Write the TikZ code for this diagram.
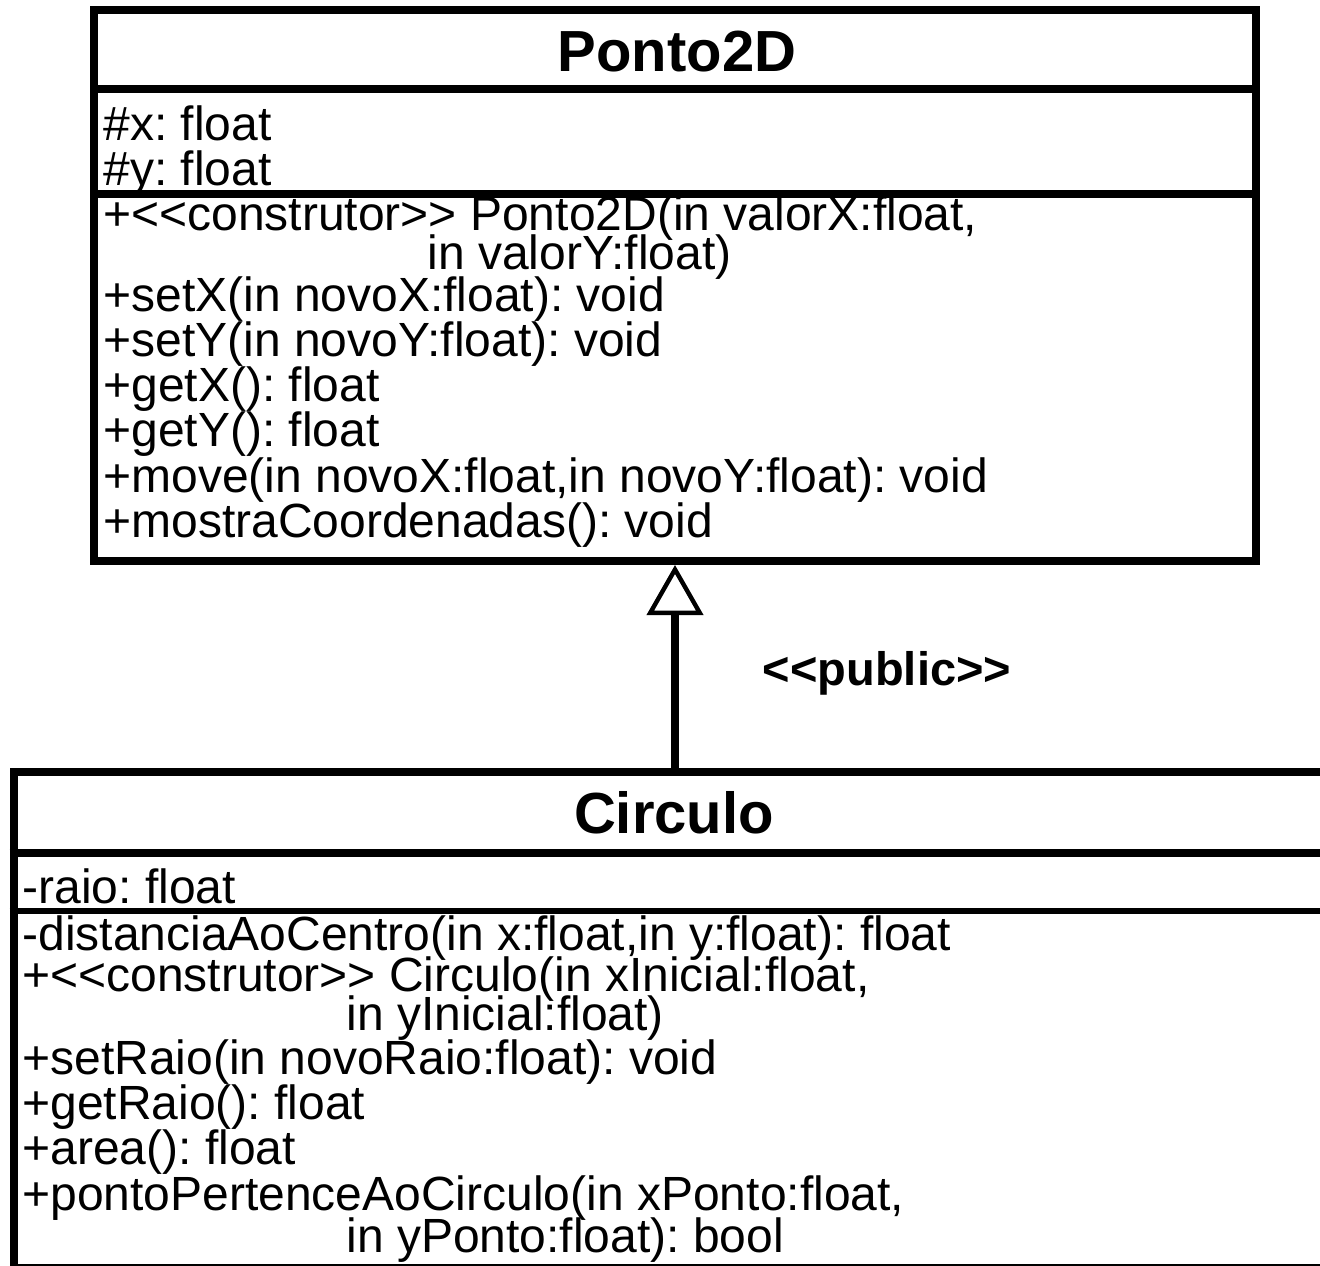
\documentclass[tikz,border=0pt]{standalone}
\usepackage{fontspec}
\setmainfont{Liberation Sans}[Ligatures=TeXOff]
\frenchspacing
\usetikzlibrary{arrows.meta, positioning}
\tikzset{
	classbox/.style ={rectangle, draw=black, line width=4pt, inner sep=0pt},
	divider/.style  ={line width=4pt},
	thindiv/.style  ={line width=3pt},
	member/.style   ={anchor=base west, inner sep=0pt, font=\fontsize{24}{22}\selectfont},
	classname/.style={anchor=base, inner sep=0pt, font=\fontsize{29}{30}\selectfont\bfseries},
	stereo/.style   ={anchor=base, inner sep=0pt, font=\fontsize{23.5}{24}\selectfont\bfseries},
	inherit/.style  ={-{Triangle[open, length=25pt, width=28pt, line width=2.2pt]}, line width=4pt},
}
\begin{document}
\begin{tikzpicture}[x=0.5pt, y=-0.5pt]
	\useasboundingbox (0,0) rectangle (1320,1265);
	% class boxes
	\node[classbox, minimum width=581pt, minimum height=275.5pt] (ponto) at (675,285.5) {};
	\node[classbox, minimum width=658.25pt, minimum height=248pt] (circ) at (671.75,1020) {};
	\draw[divider] (ponto.west |- 0,89) -- (ponto.east |- 0,89);
	\draw[divider] (ponto.west |- 0,193.5) -- (ponto.east |- 0,193.5);
	\draw[divider] (circ.west |- 0,852.5) -- (circ.east |- 0,852.5);
	\draw[thindiv] (circ.west |- 0,910.5) -- (circ.east |- 0,910.5);
	% Ponto2D
	\node[classname] (ptitle) at (677,71) {Ponto2D};
	\node[member] (px) at (103,140) {\#x: float};
	\node[member] (py) at (103,185) {\#y: float};
	\node[member] (pctor) at (103,230) {+<<construtor>> Ponto2D(in valorX:float,};
	\node[member] (pctorb) at (427,269) {in valorY:float)};
	\node[member] (psetx) at (103,311) {+setX(in novoX:float): void};
	\node[member] (psety) at (103,356) {+setY(in novoY:float): void};
	\node[member] (pgetx) at (103,401) {+getX(): float};
	\node[member] (pgety) at (103,446) {+getY(): float};
	\node[member] (pmove) at (103,492) {+move(in novoX:float,in novoY:float): void};
	\node[member] (pshow) at (103,537) {+mostraCoordenadas(): void};
	% Circulo
	\node[classname] (ctitle) at (674,833) {Circulo};
	\node[member] (craio) at (22,903) {-raio: float};
	\node[member] (cdist) at (22,950) {-distanciaAoCentro(in x:float,in y:float): float};
	\node[member] (cctor) at (22,991) {+<<construtor>> Circulo(in xInicial:float,};
	\node[member] (cctorb) at (346,1030) {in yInicial:float)};
	\node[member] (cset) at (22,1074) {+setRaio(in novoRaio:float): void};
	\node[member] (cget) at (22,1119) {+getRaio(): float};
	\node[member] (carea) at (22,1164) {+area(): float};
	\node[member] (cpert) at (22,1210) {+pontoPertenceAoCirculo(in xPonto:float,};
	\node[member] (cpertb) at (346,1252) {in yPonto:float): bool};
	% heranca
	\draw[inherit] (circ.north -| ponto.south) -- (ponto.south);
	\node[stereo] (pub) at (887,685) {<<public>>};
\end{tikzpicture}
\end{document}
